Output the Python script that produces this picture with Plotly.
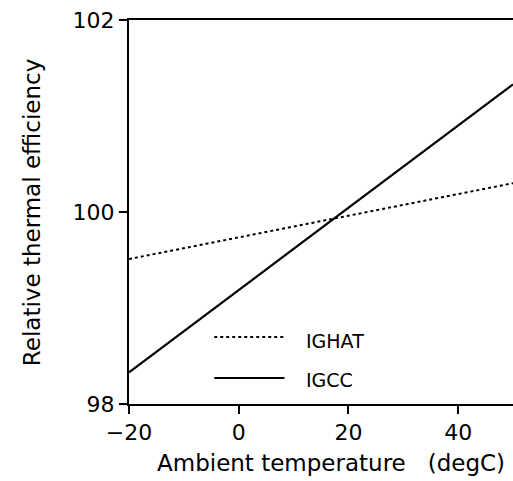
import plotly.graph_objects as go

# Data
temperature = [-20, 50]
ighat_eff = [99.51, 100.30]
igcc_eff = [98.33, 101.33]
series_names = ["IGHAT", "IGCC"]
x_ticks = [-20, 0, 20, 40]
x_tick_text = ["\u221220", "0", "20", "40"]
y_ticks = [98, 100, 102]

FONT = "DejaVu Sans, Verdana, sans-serif"

fig = go.Figure()
fig.add_trace(go.Scatter(x=temperature, y=ighat_eff, mode="lines", name=series_names[0],
                         line=dict(color="black", width=2, dash="dot"), showlegend=False))
fig.add_trace(go.Scatter(x=temperature, y=igcc_eff, mode="lines", name=series_names[1],
                         line=dict(color="black", width=2.2), showlegend=False))

# Manual legend (paper coords)
legend_items = [(series_names[0], "dot", 0.1745, 0.164), (series_names[1], "solid", 0.0677, 0.0625)]
for name, dash, yl, yt in legend_items:
    fig.add_shape(type="line", xref="paper", yref="paper", x0=0.222, x1=0.405, y0=yl, y1=yl,
                  line=dict(color="black", width=2, dash=dash))
    fig.add_annotation(xref="paper", yref="paper", x=0.456, y=yt, text=name, showarrow=False,
                       xanchor="left", yanchor="middle", font=dict(size=19, color="black", family=FONT))

# axis titles
fig.add_annotation(xref="paper", yref="paper", x=0.525, y=-0.154, text="Ambient temperature   (degC)",
                   showarrow=False, xanchor="center", yanchor="middle",
                   font=dict(size=23, color="black", family=FONT))
fig.add_annotation(xref="paper", yref="paper", x=-0.2526, y=0.497, text="Relative thermal efficiency",
                   showarrow=False, xanchor="center", yanchor="middle", textangle=-90,
                   font=dict(size=23, color="black", family=FONT))

fig.update_layout(
    width=513, height=481,
    margin=dict(l=129, r=0, t=20, b=77),
    paper_bgcolor="white", plot_bgcolor="white",
    font=dict(family=FONT, color="black", size=22),
    xaxis=dict(range=[-20, 50], tickvals=x_ticks, ticktext=x_tick_text, automargin=False,
               showgrid=False, zeroline=False, showline=True, mirror=True,
               linecolor="black", linewidth=2,
               ticks="outside", ticklen=8, tickwidth=2, tickcolor="black",
               ticklabeloverflow="allow", tickfont=dict(size=22)),
    yaxis=dict(range=[98, 102], tickvals=y_ticks, automargin=False, showgrid=False, zeroline=False,
               showline=True, linecolor="black", linewidth=2,
               ticks="outside", ticklen=8, tickwidth=2, tickcolor="black",
               ticklabeloverflow="allow", tickfont=dict(size=22)),
)

fig.write_html(
    "out.html",
    config={"displayModeBar": False},
    post_script="document.body.style.margin='0';document.body.style.overflow='hidden';",
)
